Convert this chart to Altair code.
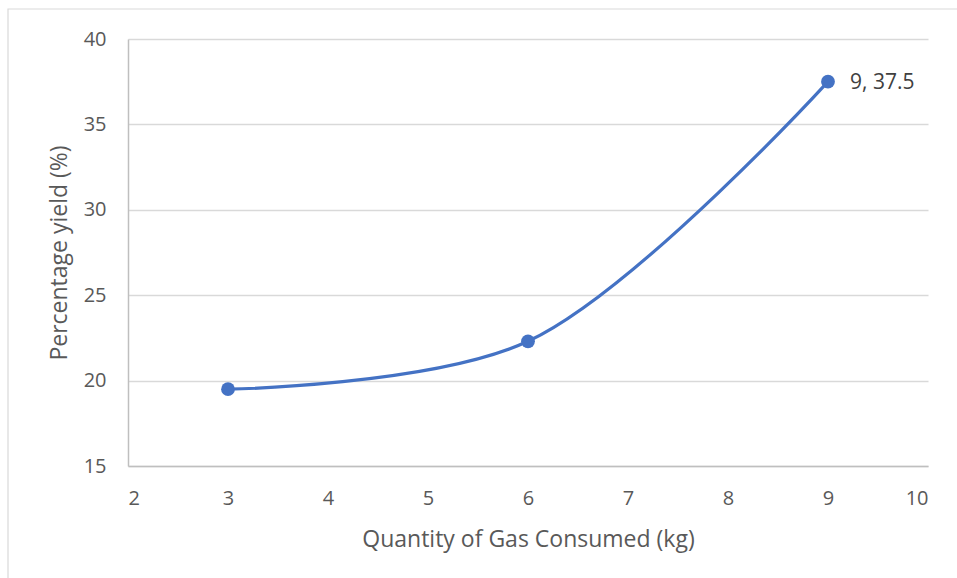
import altair as alt
import pandas as pd

gas_kg = [3, 6, 9]
yield_pct = [19.5, 22.3, 37.5]
labelled = [False, False, True]

df = pd.DataFrame({"gas": gas_kg, "yield": yield_pct, "lab": labelled})
df["label"] = [f"{g}, {y}" if l else "" for g, y, l in zip(gas_kg, yield_pct, labelled)]

FONT = "Open Sans"
GREY = "#595959"
BLUE = "#4472C4"

x_enc = alt.X("gas:Q", scale=alt.Scale(domain=[2, 10], nice=False),
              axis=alt.Axis(title="Quantity of Gas Consumed (kg)", values=list(range(2, 11)),
                            format="d", grid=False, ticks=False, domainColor="#bfbfbf",
                            domainWidth=1.5, labelPadding=22, titlePadding=20))
y_enc = alt.Y("yield:Q", scale=alt.Scale(domain=[15, 40], nice=False, zero=False),
              axis=alt.Axis(title="Percentage yield (%)", values=[15, 20, 25, 30, 35, 40],
                            format="d", grid=True, gridColor="#d9d9d9", gridWidth=1.3,
                            ticks=False, domainColor="#bfbfbf", domainWidth=1.5,
                            labelPadding=22, titlePadding=12))

base = alt.Chart(df)

border = alt.Chart(pd.DataFrame({"a": [0]})).mark_rect(
    fill=None, stroke="#d9d9d9", strokeWidth=1.2
).encode(x=alt.value(-120), x2=alt.value(835), y=alt.value(-30), y2=alt.value(545))

line = base.mark_line(interpolate="catmull-rom", color=BLUE, strokeWidth=3.2).encode(x=x_enc, y=y_enc)
pts = base.mark_circle(color=BLUE, size=190, opacity=1).encode(x="gas:Q", y="yield:Q")
txt = base.transform_filter("datum.lab").mark_text(
    align="left", baseline="middle", dx=22, dy=1, fontSize=21, font=FONT, color="#404040"
).encode(x="gas:Q", y="yield:Q", text="label:N")

chart = alt.layer(border, line, pts, txt).properties(
    width=800, height=427,
    background="white",
    autosize=alt.AutoSizeParams(type="none"),
    padding={"left": 128, "top": 39, "right": 29, "bottom": 112},
).configure_view(stroke=None).configure_axis(
    labelFont=FONT, titleFont=FONT, labelFontSize=20, titleFontSize=23,
    labelColor=GREY, titleColor=GREY, titleFontWeight="normal"
)

chart.save("out.html", embed_options={"renderer": "svg", "actions": False})
